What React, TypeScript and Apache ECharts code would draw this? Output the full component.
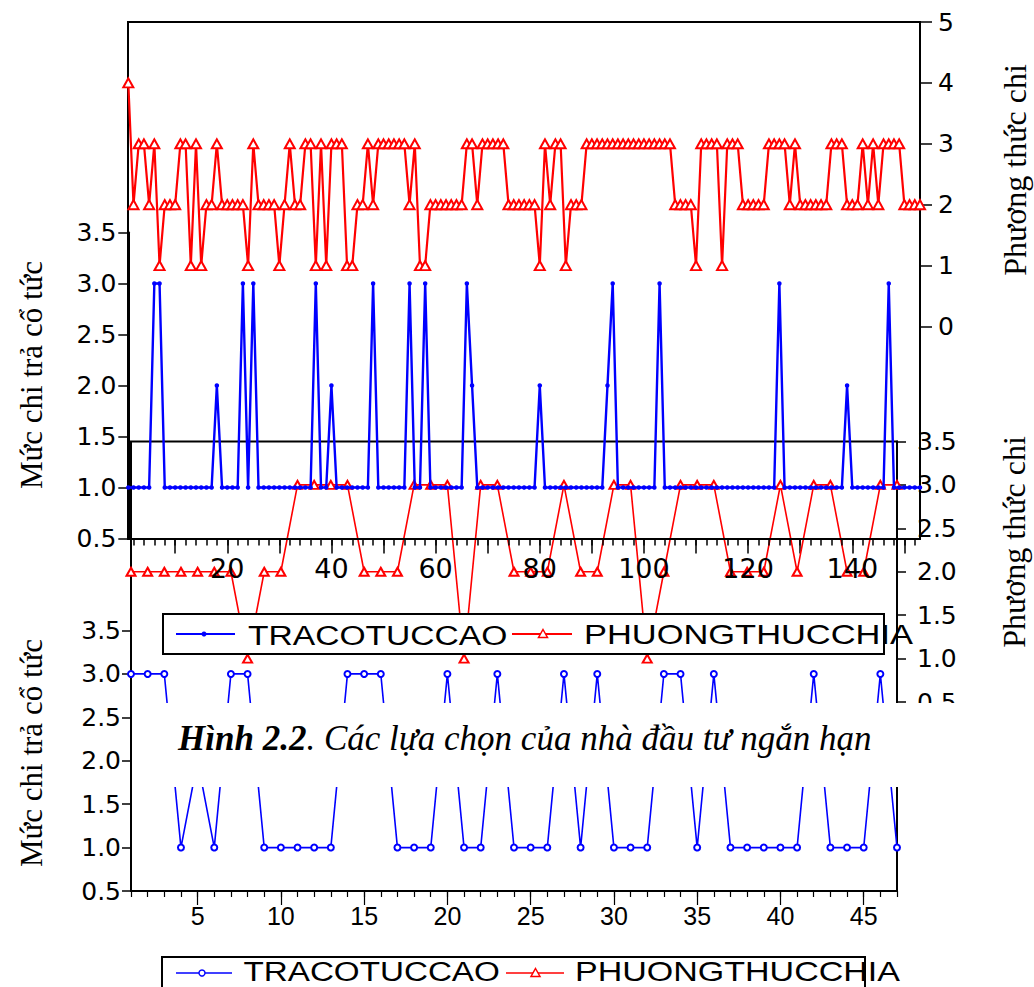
import React, { useEffect, useRef } from "react";
import * as echarts from "echarts";

// ---------- DATA ----------
const topCategories = Array.from({ length: 153 }, (_, i) => String(i + 1));
const bottomCategories = Array.from({ length: 47 }, (_, i) => String(i + 1));

// Upper chart (153 observations)
const topTraCoTucCao = [
  1, 1, 1, 1, 1, 3, 3, 1, 1, 1,
  1, 1, 1, 1, 1, 1, 1, 2, 1, 1,
  1, 1, 3, 1, 3, 1, 1, 1, 1, 1,
  1, 1, 1, 1, 1, 1, 3, 1, 1, 2,
  1, 1, 1, 1, 1, 1, 1, 3, 1, 1,
  1, 1, 1, 1, 3, 1, 1, 3, 1, 1,
  1, 1, 1, 1, 1, 3, 2, 1, 1, 1,
  1, 1, 1, 1, 1, 1, 1, 1, 1, 2,
  1, 1, 1, 1, 1, 1, 1, 1, 1, 1,
  1, 1, 2, 3, 1, 1, 1, 1, 1, 1,
  1, 1, 3, 1, 1, 1, 1, 1, 1, 1,
  1, 1, 1, 1, 1, 1, 1, 1, 1, 1,
  1, 1, 1, 1, 1, 3, 1, 1, 1, 1,
  1, 1, 1, 1, 1, 1, 1, 1, 2, 1,
  1, 1, 1, 1, 1, 1, 3, 1, 1, 1,
  1, 1, 1,
];
const topPhuongThucChia = [
  4, 2, 3, 3, 2, 3, 1, 2, 2, 2,
  3, 3, 1, 3, 1, 2, 2, 3, 2, 2,
  2, 2, 2, 1, 3, 2, 2, 2, 2, 1,
  2, 3, 2, 2, 3, 3, 1, 3, 1, 3,
  3, 3, 1, 1, 2, 2, 3, 2, 3, 3,
  3, 3, 3, 3, 2, 3, 1, 1, 2, 2,
  2, 2, 2, 2, 2, 3, 3, 2, 3, 3,
  3, 3, 3, 2, 2, 2, 2, 2, 2, 1,
  3, 2, 3, 3, 1, 2, 2, 2, 3, 3,
  3, 3, 3, 3, 3, 3, 3, 3, 3, 3,
  3, 3, 3, 3, 3, 2, 2, 2, 2, 1,
  3, 3, 3, 3, 1, 3, 3, 3, 2, 2,
  2, 2, 2, 3, 3, 3, 3, 2, 3, 2,
  2, 2, 2, 2, 2, 3, 3, 3, 2, 2,
  2, 3, 2, 3, 2, 3, 3, 3, 3, 2,
  2, 2, 2,
];

// Lower chart (47 observations)
const bottomTraCoTucCao = [
  3, 3, 3, 1, 2, 1, 3, 3, 1, 1,
  1, 1, 1, 3, 3, 3, 1, 1, 1, 3,
  1, 1, 3, 1, 1, 1, 3, 1, 3, 1,
  1, 1, 3, 3, 1, 3, 1, 1, 1, 1,
  1, 3, 1, 1, 1, 3, 1,
];
const bottomPhuongThucChia = [
  2, 2, 2, 2, 2, 2, 2, 1, 2, 2,
  3, 3, 3, 3, 2, 2, 2, 3, 3, 3,
  1, 3, 3, 2, 2, 2, 3, 2, 2, 3,
  3, 1, 2, 3, 3, 3, 2, 2, 2, 3,
  2, 3, 3, 2, 2, 3, 3,
];

const seriesNames = ["TRACOTUCCAO", "PHUONGTHUCCHIA"];
const leftTitle = "Mức chi trả cổ tức";
const rightTitle = "Phương thức chi";
const captionBold = "Hình 2.2";
const captionRest = ". Các lựa chọn của nhà đầu tư ngắn hạn";

// ---------- STYLE ----------
const BLUE = "#0000ff";
const RED = "#ff0000";
const BLACK = "#000000";
const NUM_FONT = "DejaVu Sans";
const SANS = "Liberation Sans";
const SERIF = "Liberation Serif";

function buildOption(): any {
  const grid = [
    { left: 128.3, top: 232.5, width: 791.7, height: 306 }, // upper blue
    { left: 128.3, top: 22, width: 791.7, height: 304.5 }, // upper red
    { left: 131, top: 630.5, width: 766, height: 260.5 }, // lower blue
    { left: 131, top: 441.5, width: 766, height: 260.5 }, // lower red
  ].map((g) => ({ ...g, containLabel: false, outerBoundsMode: "none", show: false }));

  const hiddenX = (gridIndex: number, data: string[]) => ({
    gridIndex,
    type: "category",
    data,
    boundaryGap: false,
    show: false,
  });

  const xAxis = [
    {
      gridIndex: 0,
      type: "category",
      data: topCategories,
      boundaryGap: false,
      position: "bottom",
      z: 4,
      axisLine: { show: true, onZero: false, lineStyle: { color: BLACK, width: 2 } },
      axisTick: { show: true, interval: (i: number) => (i + 1) % 2 === 0, length: 7, lineStyle: { color: BLACK, width: 1.5 } },
      axisLabel: {
        show: true,
        interval: (i: number) => (i + 1) % 20 === 0,
        color: BLACK,
        fontFamily: NUM_FONT,
        fontSize: 27,
        margin: 16,
      },
      splitLine: { show: false },
    },
    {
      gridIndex: 0,
      type: "category",
      data: topCategories,
      boundaryGap: false,
      position: "bottom",
      axisLine: { show: false, onZero: false },
      axisTick: { show: true, interval: (i: number) => (i + 1) % 10 === 0, length: 15, lineStyle: { color: BLACK, width: 1.5 } },
      axisLabel: { show: false },
      splitLine: { show: false },
    },
    hiddenX(1, topCategories),
    {
      gridIndex: 2,
      type: "category",
      data: bottomCategories,
      boundaryGap: false,
      position: "bottom",
      axisLine: { show: true, onZero: false, lineStyle: { color: BLACK, width: 2 } },
      axisTick: { show: true, interval: 0, length: 6, lineStyle: { color: BLACK, width: 1.2 } },
      axisLabel: {
        show: true,
        interval: (i: number) => (i + 1) % 5 === 0,
        color: BLACK,
        fontFamily: SANS,
        fontSize: 25,
        margin: 12,
      },
      splitLine: { show: false },
    },
    {
      gridIndex: 2,
      type: "category",
      data: bottomCategories,
      boundaryGap: false,
      position: "bottom",
      axisLine: { show: false, onZero: false },
      axisTick: { show: true, interval: (i: number) => (i + 1) % 5 === 0, length: 14, lineStyle: { color: BLACK, width: 1.2 } },
      axisLabel: { show: false },
      splitLine: { show: false },
    },
    hiddenX(3, bottomCategories),
  ];

  const yBase = (gridIndex: number, position: string, min: number, max: number, interval: number, tickLen: number, margin: number, digits: number) => ({
    gridIndex,
    type: "value",
    position,
    min,
    max,
    interval,
    axisLine: { show: true, onZero: false, lineStyle: { color: BLACK, width: 2 } },
    axisTick: { show: true, length: tickLen, lineStyle: { color: BLACK, width: 1.5 } },
    axisLabel: {
      color: BLACK,
      fontFamily: NUM_FONT,
      fontSize: 25,
      margin,
      formatter: (v: number) => v.toFixed(digits),
    },
    splitLine: { show: false },
  });

  const yAxis = [
    yBase(0, "left", 0.5, 3.5, 0.5, 10, 12, 1),
    yBase(1, "right", 0, 5, 1, 12, 18, 0),
    yBase(2, "left", 0.5, 3.5, 0.5, 9, 10, 1),
    yBase(3, "right", 0.5, 3.5, 0.5, 9, 20, 1),
  ];

  const series = [
    {
      name: seriesNames[1] + " (2)",
      type: "line",
      xAxisIndex: 5,
      yAxisIndex: 3,
      data: bottomPhuongThucChia,
      symbol: "emptyTriangle",
      symbolSize: [9, 8],
      showAllSymbol: true,
      lineStyle: { color: RED, width: 1.6 },
      itemStyle: { color: RED, borderWidth: 1.4 },
      z: 2,
    },
    {
      name: seriesNames[0] + " (2)",
      type: "line",
      xAxisIndex: 3,
      yAxisIndex: 2,
      data: bottomTraCoTucCao,
      symbol: "emptyCircle",
      symbolSize: 6,
      showAllSymbol: true,
      lineStyle: { color: BLUE, width: 1.6 },
      itemStyle: { color: BLUE, borderWidth: 1.4 },
      z: 2,
    },
    {
      name: seriesNames[1],
      type: "line",
      xAxisIndex: 2,
      yAxisIndex: 1,
      data: topPhuongThucChia,
      symbol: "emptyTriangle",
      symbolSize: [10, 9],
      showAllSymbol: true,
      lineStyle: { color: RED, width: 2.2 },
      itemStyle: { color: RED, borderWidth: 1.8 },
      z: 3,
    },
    {
      name: seriesNames[0],
      type: "line",
      xAxisIndex: 0,
      yAxisIndex: 0,
      data: topTraCoTucCao,
      symbol: "circle",
      symbolSize: 4.5,
      showAllSymbol: true,
      lineStyle: { color: BLUE, width: 2.4 },
      itemStyle: { color: BLUE },
      z: 3,
    },
  ];

  const legendText = (x: number, y: number, text: string, sx: number, size: number, z: number) => ({
    type: "text",
    x,
    y,
    scaleX: sx,
    z,
    silent: true,
    style: {
      text,
      fontFamily: SANS,
      fontSize: size,
      fill: BLACK,
      align: "left",
      verticalAlign: "middle",
    },
  });

  const title = (x: number, y: number, text: string, size: number) => ({
    type: "text",
    x,
    y,
    rotation: Math.PI / 2,
    z: 5,
    silent: true,
    style: {
      text,
      fontFamily: SERIF,
      fontSize: size,
      fill: BLACK,
      align: "center",
      verticalAlign: "middle",
    },
  });

  const tri = (cx: number, cy: number, z: number) => ({
    type: "polygon",
    z,
    silent: true,
    shape: { points: [[cx, cy - 4.5], [cx + 4.5, cy + 3.5], [cx - 4.5, cy + 3.5]] },
    style: { fill: "#fff", stroke: RED, lineWidth: 1.5 },
  });

  const graphic = {
    elements: [
      // frames
      { type: "rect", z: 1, silent: true, shape: { x: 128, y: 22, width: 792, height: 517 }, style: { fill: "none", stroke: BLACK, lineWidth: 2 } },
      { type: "rect", z: 1, silent: true, shape: { x: 131, y: 441.5, width: 766, height: 449.5 }, style: { fill: "none", stroke: BLACK, lineWidth: 2 } },
      // axis titles
      title(31, 375, leftTitle, 31),
      title(31, 753, leftTitle, 31),
      title(1015, 170, rightTitle, 32),
      title(1014, 542, rightTitle, 32),
      // upper legend
      { type: "rect", z: 50, silent: true, shape: { x: 163, y: 614, width: 721, height: 40 }, style: { fill: "#fff", stroke: BLACK, lineWidth: 2 } },
      { type: "line", z: 51, silent: true, shape: { x1: 176, y1: 634, x2: 235, y2: 634 }, style: { stroke: BLUE, lineWidth: 2 } },
      { type: "circle", z: 52, silent: true, shape: { cx: 204, cy: 634, r: 2.5 }, style: { fill: BLUE } },
      legendText(248, 635, seriesNames[0], 1.2, 28, 52),
      { type: "line", z: 51, silent: true, shape: { x1: 512, y1: 634, x2: 572, y2: 634 }, style: { stroke: RED, lineWidth: 2 } },
      tri(543, 634, 52),
      legendText(584, 635, seriesNames[1], 1.23, 28, 52),
      // caption band
      { type: "rect", z: 60, silent: true, shape: { x: 134, y: 703, width: 900, height: 84 }, style: { fill: "#fff" } },
      {
        type: "text",
        x: 178,
        y: 738,
        z: 61,
        silent: true,
        style: {
          text: "{b|" + captionBold + "}{i|" + captionRest + "}",
          verticalAlign: "middle",
          align: "left",
          rich: {
            b: { fontFamily: SERIF, fontSize: 35, fontWeight: "bold", fontStyle: "italic", fill: BLACK },
            i: { fontFamily: SERIF, fontSize: 35, fontStyle: "italic", fill: BLACK },
          },
        },
      },
      // lower legend
      { type: "rect", z: 50, silent: true, shape: { x: 162, y: 957, width: 703, height: 60 }, style: { fill: "#fff", stroke: BLACK, lineWidth: 2 } },
      { type: "line", z: 51, silent: true, shape: { x1: 176, y1: 973, x2: 232, y2: 973 }, style: { stroke: BLUE, lineWidth: 1.6 } },
      { type: "circle", z: 52, silent: true, shape: { cx: 202, cy: 973, r: 3 }, style: { fill: "#fff", stroke: BLUE, lineWidth: 1.4 } },
      legendText(243.5, 971.5, seriesNames[0], 1.23, 27, 52),
      { type: "line", z: 51, silent: true, shape: { x1: 506, y1: 973, x2: 564, y2: 973 }, style: { stroke: RED, lineWidth: 1.6 } },
      tri(535.5, 973, 52),
      legendText(575, 971.5, seriesNames[1], 1.26, 27, 52),
    ],
  };

  return {
    animation: false,
    backgroundColor: "#ffffff",
    grid,
    xAxis,
    yAxis,
    series,
    graphic,
  };
}

export default function App() {
  const ref = useRef<HTMLDivElement>(null);
  useEffect(() => {
    if (!ref.current) return;
    const chart = echarts.init(ref.current, null, { renderer: "svg" });
    chart.setOption(buildOption());
    return () => {
      chart.dispose();
    };
  }, []);
  return (
    <div
      ref={ref}
      style={{ position: "absolute", left: 0, top: 0, width: 1034, height: 987, background: "#fff" }}
    />
  );
}
